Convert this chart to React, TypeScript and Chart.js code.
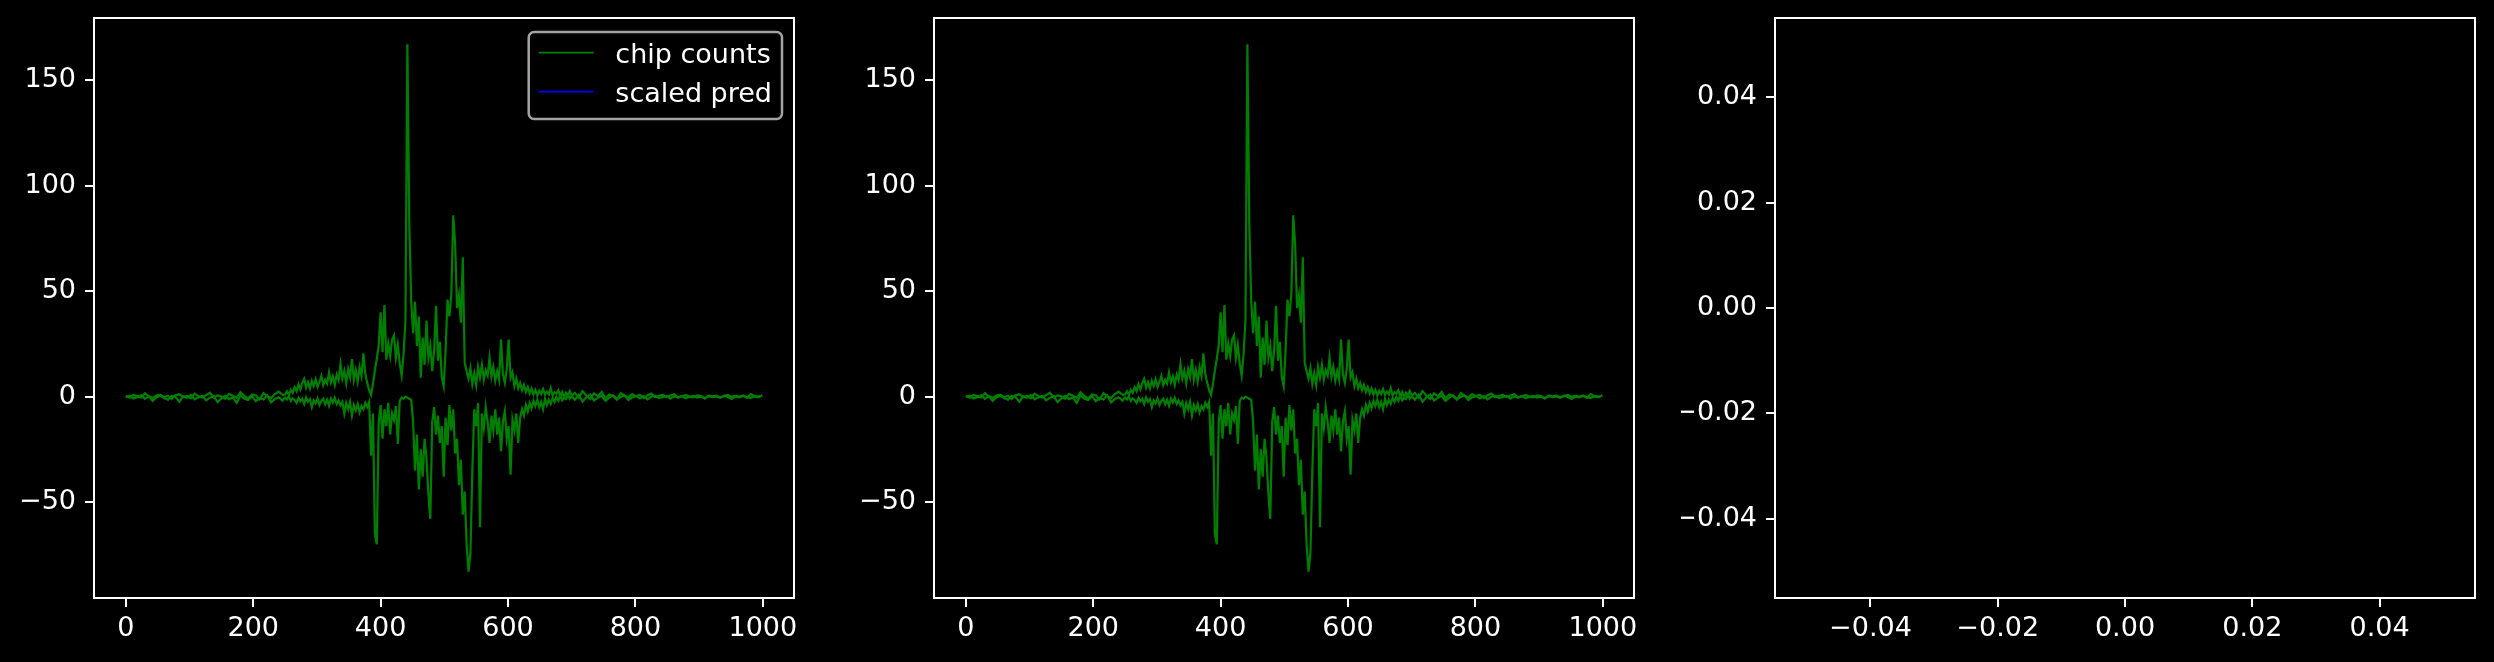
import React, { useEffect, useRef } from 'react';
import { Chart, registerables } from 'chart.js';

Chart.register(...registerables);

// ---------------- data ----------------
// "chip counts" is drawn as two strands (upper / lower) over positions 0..999
const leftTailStart = 0;
const leftTailStep = 6;
const upperLeftTail = [
  0.3, -0.5, 0.8, 0.2, -0.4, 1.6, 0.1, -0.6, 0.5, 0.9,
  -0.3, 0.4, -1.2, 0.6, 1.1, -0.2, 0.3, -0.8, 1.4, 0.2,
  -0.5, 0.7, 1.8, -0.4, 0.6, 0.1, -1.0, 1.3, 0.4, -0.6,
  2.1, 0.3, -0.9, 1.0, 0.5, -1.4, 1.6, 0.2, -0.7, 1.2,
  2.4, 0.8,
];
const lowerLeftTail = [
  -0.2, 0.4, -0.9, -0.3, 0.6, -1.1, 0.2, -2.0, -0.4, 0.5,
  -0.7, -1.5, 0.3, -0.2, -2.4, 0.1, -0.6, 0.8, -1.3, -0.3,
  0.4, -1.8, -0.5, 0.2, -2.6, -0.9, 0.3, -1.2, -0.4, -3.0,
  0.5, -1.0, -1.6, 0.2, -2.2, -0.7, -1.4, 0.6, -2.8, -1.1,
  -0.3, -1.9,
];

const centerStart = 250;
const centerStep = 3;
const upperCenter = [
  1.0, 2.5, 0.8, 3.2, 1.8, 4.5, 2.6, 5.8, 3.4, 6.5,
  8.4, 4.2, 6.8, 3.9, 7.5, 5.0, 8.2, 4.6, 7.0, 9.8,
  5.4, 8.0, 6.2, 11.5, 6.8, 9.6, 5.5, 10.4, 7.8, 15.4,
  8.6, 12.2, 6.4, 13.0, 9.2, 17.8, 8.0, 12.6, 7.2, 14.0,
  9.8, 20.5, 10.6, 6.5, 3.0, 0.8, 6.0, 12.4, 18.0, 24.0,
  40.0, 21.0, 43.4, 17.5, 25.0, 19.2, 27.0, 29.0, 18.4, 24.5,
  15.6, 10.0, 20.0, 36.0, 167.0, 82.0, 45.5, 30.0, 45.0, 24.0,
  38.0, 9.0, 28.0, 15.0, 36.0, 18.5, 24.0, 12.0, 22.0, 43.0,
  17.0, 26.0, 9.5, 5.0, 22.0, 46.0, 38.0, 48.5, 86.0, 72.0,
  42.0, 48.0, 35.0, 66.0, 16.0, 12.0, 8.5, 13.5, 6.0, 11.0,
  5.5, 14.0, 9.0, 15.0, 8.0, 12.5, 10.0, 18.5, 9.5, 14.0,
  7.5, 12.0, 8.0, 27.0, 10.5, 6.5, 13.0, 27.0, 9.0, 11.5,
  5.0, 8.5, 4.0, 6.5, 3.0, 5.5, 2.2, 4.5, 1.5, 3.8,
  1.0, 3.2, 0.5, 2.8, 1.2, 3.6, 0.8, 2.4, 1.0, 4.0,
  0.6, 2.0, 1.4, 3.0, 0.2, 2.2, -0.4, 1.8, 0.6, 2.6,
  0.4,
];
const lowerCenter = [
  -0.5, -1.4, 0.2, -2.0, -0.8, -1.6, -3.0, -0.6, -2.2, -1.0,
  -3.5, -0.4, -2.4, -1.2, -5.0, -1.8, -3.2, -0.8, -4.0, -2.0,
  -1.0, -3.6, -1.5, -4.4, -1.0, -2.8, -0.6, -3.5, -1.8, -4.2,
  -2.5, -8.0, -3.0, -6.0, -2.5, -9.0, -4.0, -6.5, -3.5, -7.5,
  -4.5, -6.0, -3.0, -5.0, -2.5, -28.0, -8.0, -65.0, -70.0, -12.0,
  -4.0, -20.0, -6.0, -14.0, -3.0, -18.0, -8.0, -11.0, -4.5, -22.5,
  -2.0, -0.5, -1.0, 0.0, -0.5, -1.0, -1.5, -12.0, -35.0, -18.0,
  -44.0, -25.0, -38.0, -20.0, -29.0, -46.0, -58.0, -12.0, -5.0, -18.0,
  -9.0, -22.0, -14.0, -38.0, -10.0, -23.0, -4.0, -16.0, -6.0, -27.0,
  -20.0, -42.0, -30.0, -56.0, -45.0, -70.0, -83.0, -74.0, -35.0, -6.0,
  -14.0, -3.0, -62.0, -8.0, -15.0, -5.0, -12.0, -22.0, -9.0, -16.0,
  -6.0, -18.0, -10.0, -26.0, -12.0, -7.0, -20.0, -14.0, -37.0, -11.0,
  -16.0, -8.0, -22.0, -10.0, -6.0, -9.0, -4.0, -7.0, -3.0, -5.5,
  -2.0, -4.5, -1.5, -5.0, -2.5, -6.0, -1.0, -4.0, -1.5, -3.5,
  -0.5, -2.5, -0.2, -2.0, 0.6, -1.8, -0.5, -1.2, 0.8, -1.0,
  0.2,
];

const rightTailStart = 705;
const rightTailStep = 6;
const upperRightTail = [
  1.8, -0.6, 2.6, 0.4, -1.2, 1.5, 0.2, 2.2, -0.8, 1.0,
  0.3, -1.5, 1.7, 0.5, -0.4, 1.2, 0.1, 0.9, -0.7, 0.6,
  1.4, -0.3, 0.4, 0.8, -0.2, 0.5, 1.1, -0.5, 0.3, 0.7,
  0.0, -0.4, 0.6, 0.2, -0.8, 0.5, 0.1, 0.4, -0.3, 0.2,
  0.8, -0.1, 0.3, 0.0, 0.5, -0.6, 1.2, 0.2, -0.3, 0.6,
];
const lowerRightTail = [
  -1.5, 0.8, -2.4, -0.3, 1.0, -1.8, -0.6, 0.4, -2.0, -0.5,
  0.6, -1.2, -0.2, 0.5, -1.6, -0.4, 0.3, -0.9, 0.2, -1.3,
  -0.1, 0.4, -0.7, -0.2, 0.3, -1.0, 0.1, -0.4, 0.2, -0.8,
  -0.1, 0.3, -0.5, 0.0, -0.9, 0.2, -0.3, 0.1, -0.6, 0.4,
  -0.2, -1.1, 0.1, -0.4, 0.3, -0.2, -0.7, 0.2, 0.0, 0.4,
];

const seriesLabels = ['chip counts', 'scaled pred'];
const seriesColors = ['#008000', '#0000ff'];

const xTicks = [0, 200, 400, 600, 800, 1000];
const yTicks = [-50, 0, 50, 100, 150];
const emptyTicks = [-0.04, -0.02, 0.0, 0.02, 0.04];

// ---------------- layout / style ----------------
const FONT = "'DejaVu Sans', 'Liberation Sans', sans-serif";
const FONT_SIZE = 27;
const W = 2494;
const H = 662;
const CANVAS_W = 820;
const AXIS_LEFT = 94;
const AREA_TOP = 18;
const AREA_RIGHT = 794;
const AREA_BOTTOM = 598;
const PANEL_LEFTS = [0, 840, 1681];
const LINE_W = 2.2;

type Pt = { x: number; y: number };

function strand(parts: Array<[number, number, number[]]>): Pt[] {
  const out: Pt[] = [];
  parts.forEach(([start, step, vals]) => {
    vals.forEach((v, i) => out.push({ x: start + i * step, y: v }));
  });
  return out;
}

const upperStrand = strand([
  [leftTailStart, leftTailStep, upperLeftTail],
  [centerStart, centerStep, upperCenter],
  [rightTailStart, rightTailStep, upperRightTail],
]);
const lowerStrand = strand([
  [leftTailStart, leftTailStep, lowerLeftTail],
  [centerStart, centerStep, lowerCenter],
  [rightTailStart, rightTailStep, lowerRightTail],
]);

function paddedRange(vals: number[]): [number, number] {
  const lo = Math.min(...vals);
  const hi = Math.max(...vals);
  const m = (hi - lo) * 0.05;
  return [lo - m, hi + m];
}

const allPts = upperStrand.concat(lowerStrand);
const [xMin, xMax] = paddedRange(allPts.map((p) => p.x));
const [yMin, yMax] = paddedRange(allPts.map((p) => p.y));

const fmtInt = (v: number) => (v < 0 ? '\u2212' + Math.abs(v) : String(v));
const fmt2 = (v: number) => {
  const s = Math.abs(v).toFixed(2);
  return v < -1e-9 ? '\u2212' + s : s;
};

const framePlugin = {
  id: 'mplFrame',
  afterDraw(chart: any) {
    const { ctx, chartArea } = chart;
    ctx.save();
    ctx.strokeStyle = '#ffffff';
    ctx.lineWidth = 2;
    ctx.strokeRect(
      Math.round(chartArea.left),
      Math.round(chartArea.top),
      Math.round(chartArea.right - chartArea.left),
      Math.round(chartArea.bottom - chartArea.top)
    );
    ctx.restore();
  },
};

const legendPlugin = {
  id: 'mplLegend',
  afterDraw(chart: any, _args: any, opts: any) {
    if (!opts || !opts.show) return;
    const { ctx, chartArea } = chart;
    const items = chart.data.datasets.filter((d: any) => d.label && !d.hideInLegend);
    if (!items.length) return;
    ctx.save();
    ctx.font = `${FONT_SIZE}px ${FONT}`;
    const textW = Math.max(...items.map((d: any) => ctx.measureText(d.label).width));
    const padX = 10;
    const handleLen = 55;
    const handlePad = 21.6;
    const firstRow = 20.7;
    const rowH = 39;
    const bottomPad = 27.3;
    const boxW = padX + handleLen + handlePad + textW + padX;
    const boxH = firstRow + rowH * (items.length - 1) + bottomPad;
    const x0 = chartArea.right - 12 - boxW;
    const y0 = chartArea.top + 14;
    const r = 5.4;
    ctx.beginPath();
    ctx.moveTo(x0 + r, y0);
    ctx.lineTo(x0 + boxW - r, y0);
    ctx.arcTo(x0 + boxW, y0, x0 + boxW, y0 + r, r);
    ctx.lineTo(x0 + boxW, y0 + boxH - r);
    ctx.arcTo(x0 + boxW, y0 + boxH, x0 + boxW - r, y0 + boxH, r);
    ctx.lineTo(x0 + r, y0 + boxH);
    ctx.arcTo(x0, y0 + boxH, x0, y0 + boxH - r, r);
    ctx.lineTo(x0, y0 + r);
    ctx.arcTo(x0, y0, x0 + r, y0, r);
    ctx.closePath();
    ctx.fillStyle = 'rgba(0,0,0,0.8)';
    ctx.fill();
    ctx.strokeStyle = '#a3a3a3';
    ctx.lineWidth = 2.5;
    ctx.stroke();
    items.forEach((d: any, i: number) => {
      const cy = y0 + firstRow + rowH * i;
      ctx.strokeStyle = d.borderColor;
      ctx.lineWidth = 1.7;
      ctx.beginPath();
      ctx.moveTo(x0 + padX, cy);
      ctx.lineTo(x0 + padX + handleLen, cy);
      ctx.stroke();
      ctx.fillStyle = '#ffffff';
      ctx.textAlign = 'left';
      ctx.textBaseline = 'alphabetic';
      ctx.fillText(d.label, x0 + padX + handleLen + handlePad, cy + 10.5);
    });
    ctx.restore();
  },
};

function makeAxis(
  min: number,
  max: number,
  tickVals: number[],
  fmt: (v: number) => string,
  horizontal: boolean
) {
  return {
    type: 'linear',
    min,
    max,
    afterBuildTicks: (s: any) => {
      s.ticks = tickVals.map((v) => ({ value: v }));
    },
    afterFit: (s: any) => {
      if (horizontal) {
        s.height = H - AREA_BOTTOM;
        s.paddingLeft = 0;
        s.paddingRight = 0;
      } else {
        s.width = AXIS_LEFT;
        s.paddingTop = 0;
        s.paddingBottom = 0;
      }
    },
    grid: {
      display: true,
      drawOnChartArea: false,
      drawTicks: true,
      tickLength: 9,
      tickWidth: 2,
      tickColor: '#ffffff',
      color: '#ffffff',
      lineWidth: 2,
    },
    border: { display: false },
    ticks: {
      color: '#ffffff',
      font: { family: FONT, size: FONT_SIZE },
      padding: horizontal ? 6 : 9,
      maxRotation: 0,
      autoSkip: false,
      callback: (v: any) => fmt(Number(v)),
    },
  };
}

function baseOptions(scales: any, showLegend: boolean) {
  return {
    responsive: false,
    maintainAspectRatio: false,
    animation: false,
    devicePixelRatio: 1,
    layout: {
      padding: { left: 0, top: AREA_TOP, right: CANVAS_W - AREA_RIGHT, bottom: 0 },
    },
    plugins: {
      legend: { display: false },
      tooltip: { enabled: false },
      mplLegend: { show: showLegend },
    },
    scales,
  };
}

function signalConfig(showLegend: boolean) {
  return {
    type: 'line',
    data: {
      datasets: [
        {
          label: seriesLabels[0],
          data: upperStrand,
          borderColor: seriesColors[0],
          borderWidth: LINE_W,
          pointRadius: 0,
          tension: 0,
          fill: false,
        },
        {
          label: seriesLabels[0],
          hideInLegend: true,
          data: lowerStrand,
          borderColor: seriesColors[0],
          borderWidth: LINE_W,
          pointRadius: 0,
          tension: 0,
          fill: false,
        },
        {
          label: seriesLabels[1],
          data: [] as Pt[],
          borderColor: seriesColors[1],
          borderWidth: LINE_W,
          pointRadius: 0,
          fill: false,
        },
      ],
    },
    options: baseOptions(
      {
        x: makeAxis(xMin, xMax, xTicks, fmtInt, true),
        y: makeAxis(yMin, yMax, yTicks, fmtInt, false),
      },
      showLegend
    ),
    plugins: [framePlugin, legendPlugin],
  };
}

function emptyConfig() {
  return {
    type: 'line',
    data: { datasets: [] as any[] },
    options: baseOptions(
      {
        x: makeAxis(-0.055, 0.055, emptyTicks, fmt2, true),
        y: makeAxis(-0.055, 0.055, emptyTicks, fmt2, false),
      },
      false
    ),
    plugins: [framePlugin, legendPlugin],
  };
}

function Panel({ left, build }: { left: number; build: () => any }) {
  const ref = useRef<HTMLCanvasElement>(null);
  useEffect(() => {
    const chart = new Chart(ref.current as HTMLCanvasElement, build());
    return () => chart.destroy();
  }, []);
  return (
    <canvas
      ref={ref}
      width={CANVAS_W}
      height={H}
      style={{ position: 'absolute', left, top: 0, width: CANVAS_W, height: H }}
    />
  );
}

export default function App() {
  return (
    <div
      style={{
        position: 'fixed',
        left: 0,
        top: 0,
        width: W,
        height: H,
        background: '#000000',
        overflow: 'hidden',
      }}
    >
      <Panel left={PANEL_LEFTS[0]} build={() => signalConfig(true)} />
      <Panel left={PANEL_LEFTS[1]} build={() => signalConfig(false)} />
      <Panel left={PANEL_LEFTS[2]} build={emptyConfig} />
    </div>
  );
}
